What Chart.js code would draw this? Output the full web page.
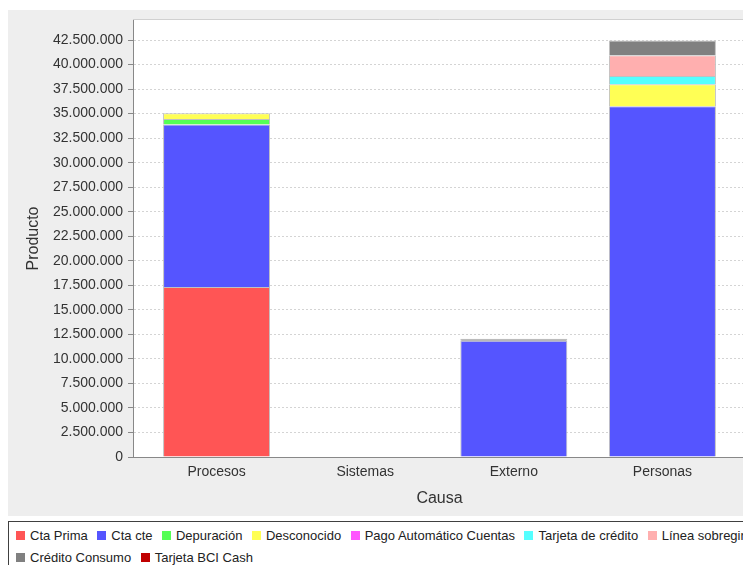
<!DOCTYPE html>
<html>
<head>
<meta charset="utf-8">
<script src="https://cdn.jsdelivr.net/npm/chart.js@4"></script>
<style>
  html, body { margin: 0; padding: 0; background: #fff; overflow: hidden; width: 743px; height: 565px; }
  #chart { position: absolute; left: 8px; top: 10px; }
  #legend {
    position: absolute; left: 8px; top: 521px; width: 800px; height: 60px;
    box-sizing: border-box; border: 1px solid #404040; background: #fff;
    padding: 2px 0 0 7px; display: flex; flex-wrap: wrap; align-content: flex-start;
    font: 13px "Liberation Sans", Arial, sans-serif; color: #222;
  }
  .item { display: flex; align-items: center; height: 22px; margin-right: 9.5px; white-space: nowrap; }
  .sw { width: 9px; height: 9px; margin-right: 5px; }
</style>
</head>
<body>
<canvas id="chart" width="790" height="506"></canvas>
<div id="legend"></div>
<script>
// categories (Causa)
const categories = ['Procesos', 'Sistemas', 'Externo', 'Personas'];

// series values, one per category
const ctaPrima        = [17330000, 0, 0, 0];
const ctaCte          = [16560000, 0, 11850000, 35740000];
const depuracion      = [560000, 0, 0, 0];
const desconocido     = [580000, 0, 0, 2250000];
const pagoAutomatico  = [0, 0, 0, 0];
const tarjetaCredito  = [0, 0, 0, 840000];
const lineaSobregiro  = [0, 0, 0, 2110000];
const creditoConsumo  = [0, 0, 200000, 1500000];
const tarjetaBciCash  = [0, 0, 0, 0];

const seriesNames = ['Cta Prima', 'Cta cte', 'Depuración', 'Desconocido', 'Pago Automático Cuentas',
  'Tarjeta de crédito', 'Línea sobregiro', 'Crédito Consumo', 'Tarjeta BCI Cash'];
const seriesValues = [ctaPrima, ctaCte, depuracion, desconocido, pagoAutomatico,
  tarjetaCredito, lineaSobregiro, creditoConsumo, tarjetaBciCash];
const seriesColors = ['#ff5555', '#5555ff', '#55ff55', '#ffff55', '#ff55ff',
  '#55ffff', '#ffafaf', '#808080', '#c00000'];

// y axis: range top and tick values
const yMax = 44540000;
const yTicks = [0, 2500000, 5000000, 7500000, 10000000, 12500000, 15000000, 17500000, 20000000,
  22500000, 25000000, 27500000, 30000000, 32500000, 35000000, 37500000, 40000000, 42500000];

Chart.defaults.font.family = '"Liberation Sans", Arial, sans-serif';

function fmt(v) {
  return String(Math.round(v)).replace(/\B(?=(\d{3})+(?!\d))/g, '.');
}

// gray panel + white plot area
const background = {
  id: 'background',
  beforeDraw(chart) {
    const { ctx, chartArea: a } = chart;
    ctx.save();
    ctx.fillStyle = '#eeeeee';
    ctx.fillRect(0, 0, chart.width, chart.height);
    ctx.fillStyle = '#ffffff';
    ctx.fillRect(a.left, a.top, a.right - a.left, a.bottom - a.top);
    ctx.strokeStyle = '#d0d0d0';
    ctx.lineWidth = 1;
    ctx.beginPath();
    ctx.moveTo(a.left, a.top - 0.5);
    ctx.lineTo(a.right, a.top - 0.5);
    ctx.stroke();
    ctx.restore();
  }
};

const datasets = seriesNames.map((name, k) => ({
  label: name,
  data: seriesValues[k].map((v, i) => ({ x: i, y: v })),
  backgroundColor: seriesColors[k],
  borderColor: '#c0c0c0',
  borderWidth: 1,
  barPercentage: 0.72,
  categoryPercentage: 1
}));

new Chart(document.getElementById('chart'), {
  type: 'bar',
  data: { datasets },
  options: {
    responsive: false,
    animation: false,
    devicePixelRatio: 1,
    layout: { padding: { left: 12, top: 10, right: 52, bottom: 0 } },
    plugins: { legend: { display: false }, tooltip: { enabled: false } },
    scales: {
      x: {
        type: 'linear',
        stacked: true,
        offset: false,
        min: -0.5623,
        max: 3.5623,
        grid: { display: false, drawTicks: false },
        border: { color: '#888888' },
        ticks: {
          stepSize: 1,
          includeBounds: false,
          autoSkip: false,
          maxRotation: 0,
          padding: 7,
          color: '#333333',
          font: { size: 14 },
          callback: v => categories[v] ?? ''
        },
        title: { display: true, text: 'Causa', color: '#333333', font: { size: 16 }, padding: { top: 0, bottom: 8 } },
        afterFit: s => { s.height = 59; s.paddingLeft = 0; s.paddingRight = 0; }
      },
      y: {
        stacked: true,
        min: 0,
        max: yMax,
        border: { color: '#888888', dash: [2, 2] },
        grid: {
          color: c => c.tick && c.tick.value === 0 ? 'rgba(0,0,0,0)' : '#d4d4d4',
          tickColor: '#888888',
          tickLength: 5
        },
        ticks: {
          autoSkip: false,
          padding: 5,
          color: '#333333',
          font: { size: 14 },
          callback: v => fmt(v)
        },
        afterBuildTicks: s => { s.ticks = yTicks.map(v => ({ value: v })); },
        title: { display: true, text: 'Producto', color: '#333333', font: { size: 16 }, padding: { top: 4, bottom: 0 } },
        afterFit: s => { s.width = 113; s.paddingTop = 0; s.paddingBottom = 0; }
      }
    }
  },
  plugins: [background]
});

// legend
const legend = document.getElementById('legend');
seriesNames.forEach((name, k) => {
  const item = document.createElement('div');
  item.className = 'item';
  const sw = document.createElement('span');
  sw.className = 'sw';
  sw.style.background = seriesColors[k];
  const txt = document.createElement('span');
  txt.textContent = name;
  item.appendChild(sw);
  item.appendChild(txt);
  legend.appendChild(item);
});
</script>
</body>
</html>
